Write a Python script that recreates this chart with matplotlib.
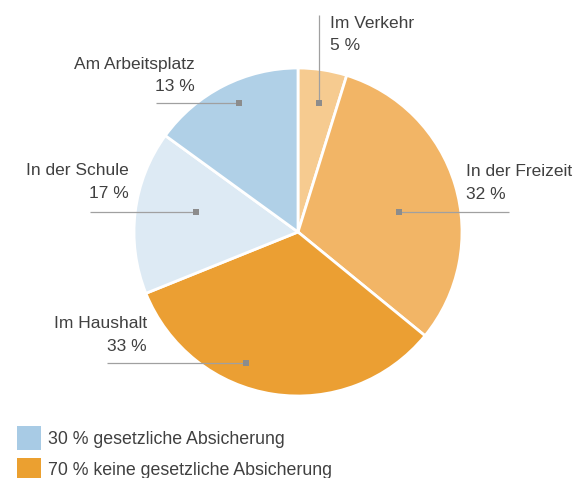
import matplotlib.pyplot as plt
from matplotlib.patches import Rectangle

# data
labels = ['Im Verkehr', 'In der Freizeit', 'Im Haushalt', 'In der Schule', 'Am Arbeitsplatz']
label_pct = [5, 32, 33, 17, 13]
# wedge sizes as drawn in the picture (measured from slice angles)
wedge_sizes = [4.8, 31.1, 33.0, 16.1, 15.0]
colors = ['#F6CB90', '#F2B566', '#EB9F33', '#DDEAF4', '#B0D0E7']
legend_labels = ['30 % gesetzliche Absicherung', '70 % keine gesetzliche Absicherung']
legend_colors = ['#A8CBE5', '#EBA030']

W, H = 582, 478
plt.rcParams['font.family'] = ['Liberation Sans', 'DejaVu Sans']
TXT = '#404040'
LINE = '#A0A0A0'

fig = plt.figure(figsize=(W / 100, H / 100), dpi=100)
ax = fig.add_axes([0, 0, 1, 1])

cx, cy, R = 298, H - 232, 164
ax.pie(wedge_sizes, colors=colors, startangle=90, counterclock=False,
       center=(cx, cy), radius=R, frame=True,
       wedgeprops=dict(edgecolor='white', linewidth=2))
ax.set_xlim(0, W)
ax.set_ylim(0, H)
ax.axis('off')

# label layout (pixel coords from top): marker, line end, text x, first baseline, alignment
layout = [
    ((319, 102.5), (319, 15), 330, 27.5, 'left'),
    ((399, 211.5), (509, 211.5), 466, 176, 'left'),
    ((246, 363), (107, 363), 147, 328.5, 'right'),
    ((196, 211.5), (90, 211.5), 128.5, 175, 'right'),
    ((239, 102.5), (156, 102.5), 194.5, 68.5, 'right'),
]
for lab, val, (mk, le, tx, ty, ha) in zip(labels, label_pct, layout):
    ax.plot([mk[0], le[0]], [H - mk[1], H - le[1]], color=LINE, lw=0.9,
            solid_capstyle='butt', zorder=5)
    ax.plot(mk[0], H - mk[1], marker='s', ms=4.5, mew=0, color='#8C8C8C', zorder=6)
    ax.text(tx, H - ty, lab, ha=ha, va='baseline', fontsize=12.5, color=TXT)
    ax.text(tx, H - ty - 22.5, f'{val} %', ha=ha, va='baseline', fontsize=12.5, color=TXT)

# legend
for i, (lt, lc) in enumerate(zip(legend_labels, legend_colors)):
    y0 = 426 + i * 31.7
    ax.add_patch(Rectangle((17, H - y0 - 23.5), 24, 23.5, color=lc, lw=0))
    ax.text(47.5, H - (443.5 + i * 31.7), lt, ha='left', va='baseline',
            fontsize=12.8, color=TXT)

fig.savefig('out.png', dpi=100)
